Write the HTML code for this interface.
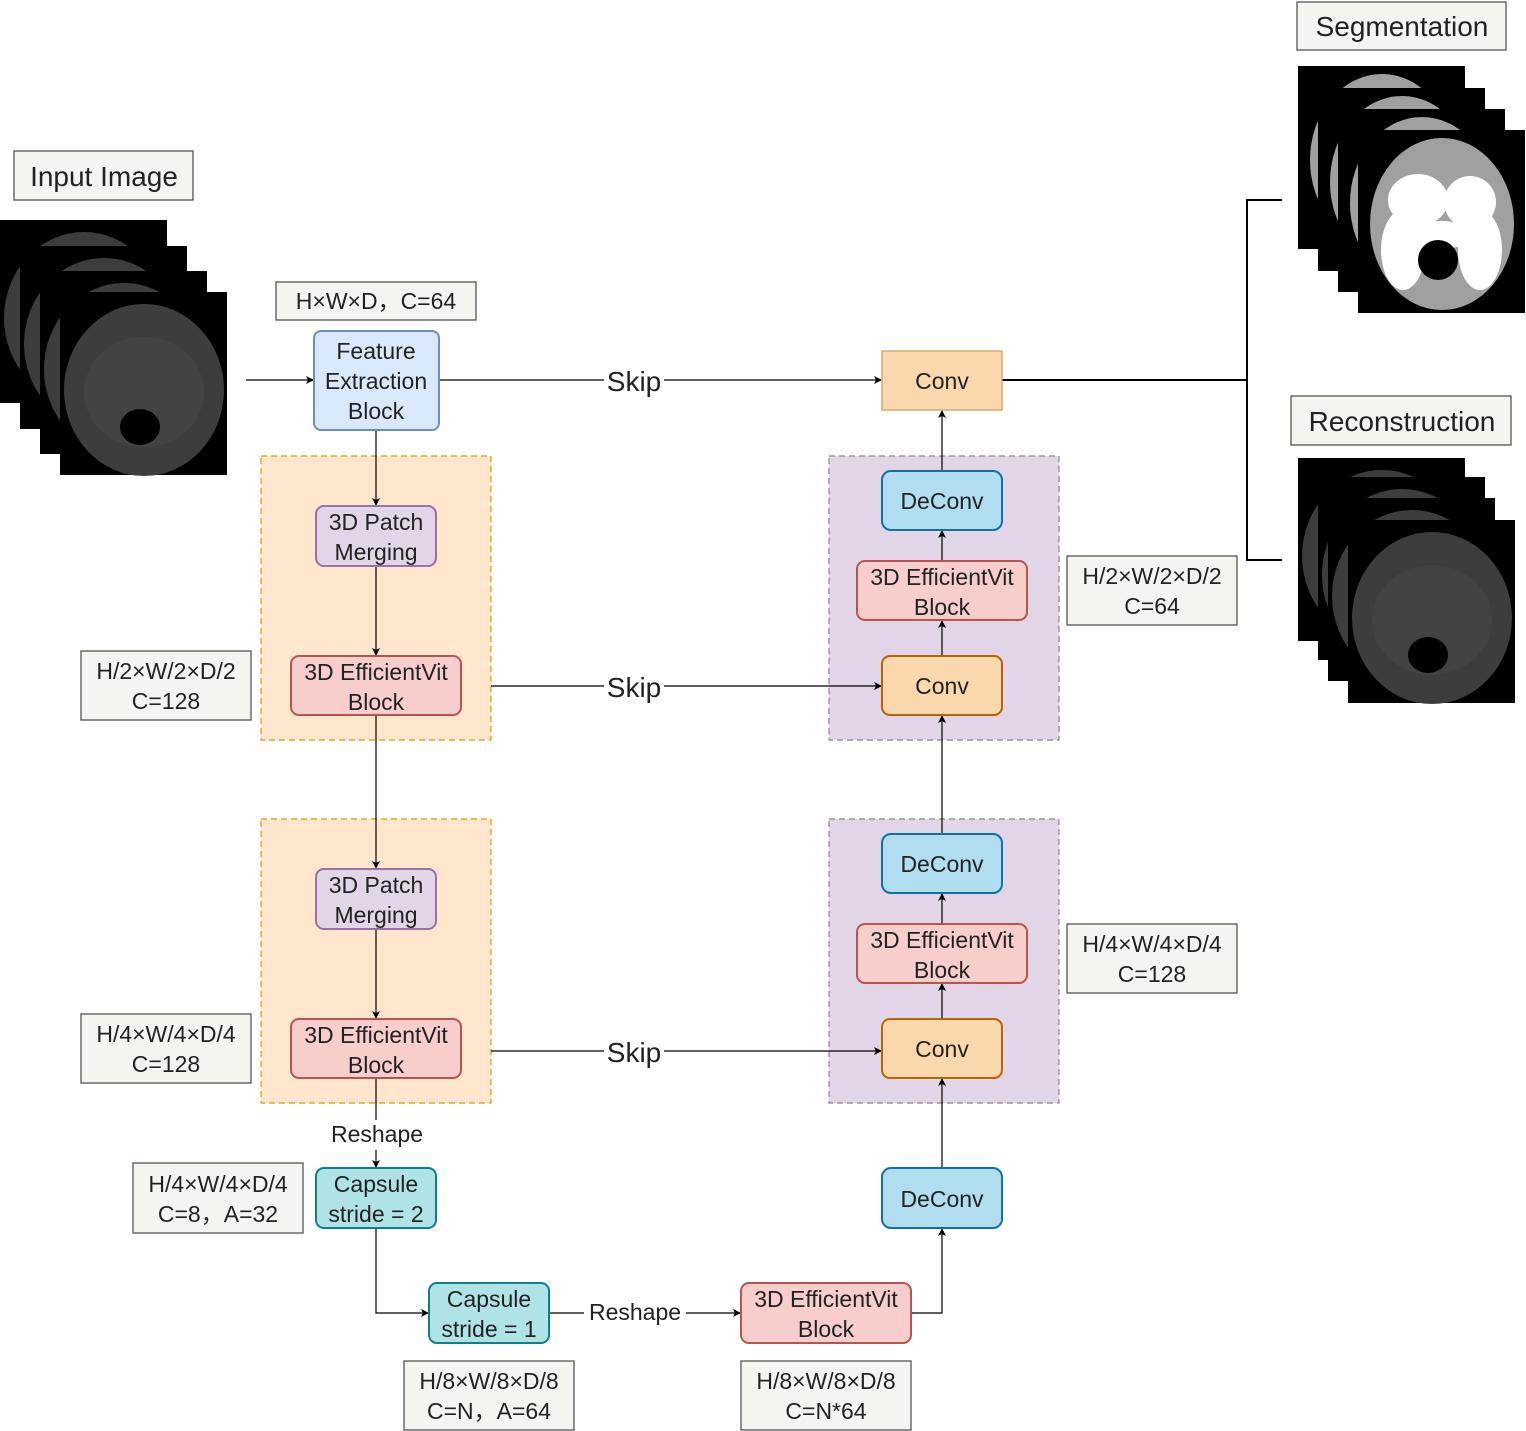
<!DOCTYPE html>
<html><head><meta charset="utf-8"><style>
body{margin:0;background:#fff}
svg{display:block}
text{font-family:"Liberation Sans",sans-serif;fill:#222}
</style></head><body>
<svg width="1526" height="1431" viewBox="0 0 1526 1431" xmlns="http://www.w3.org/2000/svg">
<defs>
<marker id="a" markerWidth="8" markerHeight="8" refX="7" refY="4" orient="auto" markerUnits="userSpaceOnUse"><path d="M0,0 L8,4 L0,8 L2,4 z" fill="#000"/></marker>
<g id="mri">
<rect width="167" height="183" fill="#000"/>
<ellipse cx="84" cy="98" rx="80" ry="86" fill="#3d3d3d"/>
<ellipse cx="84" cy="100" rx="60" ry="55" fill="#484848" opacity="0.6"/>
<ellipse cx="80" cy="135" rx="20" ry="18" fill="#000"/>
</g>
<g id="seg">
<rect width="167" height="183" fill="#000"/>
<ellipse cx="84" cy="94" rx="72" ry="86" fill="#a0a0a0"/>
<ellipse cx="60" cy="70" rx="30" ry="26" fill="#fff"/>
<ellipse cx="112" cy="72" rx="26" ry="26" fill="#fff"/>
<ellipse cx="45" cy="120" rx="22" ry="40" fill="#fff"/>
<ellipse cx="122" cy="120" rx="22" ry="40" fill="#fff"/>
<ellipse cx="84" cy="105" rx="30" ry="14" fill="#fff"/>
<ellipse cx="80" cy="130" rx="20" ry="20" fill="#000"/>
</g>
</defs>

<use href="#mri" x="0" y="220"/>
<use href="#mri" x="20" y="246"/>
<use href="#mri" x="40" y="271"/>
<use href="#mri" x="60" y="292"/>

<use href="#seg" x="1298" y="66"/>
<use href="#seg" x="1318" y="88"/>
<use href="#seg" x="1338" y="109"/>
<use href="#seg" x="1358" y="130"/>

<use href="#mri" x="1298" y="458"/>
<use href="#mri" x="1318" y="477"/>
<use href="#mri" x="1328" y="498"/>
<use href="#mri" x="1348" y="520"/>

<g stroke="#555" stroke-width="1.3" fill="#f5f5ef">
<rect x="14" y="151" width="179" height="49"/>
<rect x="1297" y="2" width="209" height="48"/>
<rect x="1291" y="396" width="220" height="49"/>
<rect x="276" y="282" width="200" height="38"/>
<rect x="81" y="651" width="170" height="69"/>
<rect x="81" y="1014" width="170" height="69"/>
<rect x="133" y="1163" width="170" height="70"/>
<rect x="404" y="1361" width="170" height="69"/>
<rect x="741" y="1361" width="170" height="69"/>
<rect x="1067" y="556" width="170" height="69"/>
<rect x="1067" y="924" width="170" height="69"/>
</g>
<g font-size="28" text-anchor="middle">
<text x="104" y="186">Input Image</text>
<text x="1402" y="36">Segmentation</text>
<text x="1402" y="431">Reconstruction</text>
</g>
<g font-size="23" text-anchor="middle">
<text x="376" y="309">H×W×D，C=64</text>
<text x="166" y="679">H/2×W/2×D/2</text><text x="166" y="709">C=128</text>
<text x="166" y="1042">H/4×W/4×D/4</text><text x="166" y="1072">C=128</text>
<text x="218" y="1192">H/4×W/4×D/4</text><text x="218" y="1222">C=8，A=32</text>
<text x="489" y="1389">H/8×W/8×D/8</text><text x="489" y="1419">C=N，A=64</text>
<text x="826" y="1389">H/8×W/8×D/8</text><text x="826" y="1419">C=N*64</text>
<text x="1152" y="584">H/2×W/2×D/2</text><text x="1152" y="614">C=64</text>
<text x="1152" y="952">H/4×W/4×D/4</text><text x="1152" y="982">C=128</text>
</g>

<g stroke-dasharray="6 4" stroke-width="1.2">
<rect x="261" y="456" width="230" height="284" fill="#ffe6cc" stroke="#d79b00"/>
<rect x="261" y="819" width="230" height="284" fill="#ffe6cc" stroke="#d79b00"/>
<rect x="829" y="456" width="230" height="284" fill="#e1d5e7" stroke="#888"/>
<rect x="829" y="819" width="230" height="284" fill="#e1d5e7" stroke="#888"/>
</g>

<g stroke="#000" stroke-width="1.2" fill="none">
<line x1="246" y1="380" x2="313" y2="380" marker-end="url(#a)"/>
<line x1="439" y1="380" x2="604" y2="380"/>
<line x1="664" y1="380" x2="881" y2="380" marker-end="url(#a)"/>
<line x1="491" y1="686" x2="604" y2="686"/>
<line x1="664" y1="686" x2="881" y2="686" marker-end="url(#a)"/>
<line x1="491" y1="1051" x2="604" y2="1051"/>
<line x1="664" y1="1051" x2="881" y2="1051" marker-end="url(#a)"/>
<line x1="376" y1="430" x2="376" y2="505" marker-end="url(#a)"/>
<line x1="376" y1="566" x2="376" y2="655" marker-end="url(#a)"/>
<line x1="376" y1="715" x2="376" y2="868" marker-end="url(#a)"/>
<line x1="376" y1="929" x2="376" y2="1018" marker-end="url(#a)"/>
<line x1="376" y1="1078" x2="376" y2="1120"/>
<line x1="376" y1="1150" x2="376" y2="1167" marker-end="url(#a)"/>
<polyline points="376,1228 376,1313 428,1313" marker-end="url(#a)"/>
<line x1="549" y1="1313" x2="584" y2="1313"/>
<line x1="686" y1="1313" x2="740" y2="1313" marker-end="url(#a)"/>
<polyline points="911,1313 942,1313 942,1229" marker-end="url(#a)"/>
<line x1="942" y1="1168" x2="942" y2="1079" marker-end="url(#a)"/>
<line x1="942" y1="1019" x2="942" y2="984" marker-end="url(#a)"/>
<line x1="942" y1="924" x2="942" y2="894" marker-end="url(#a)"/>
<line x1="942" y1="834" x2="942" y2="716" marker-end="url(#a)"/>
<line x1="942" y1="656" x2="942" y2="621" marker-end="url(#a)"/>
<line x1="942" y1="561" x2="942" y2="531" marker-end="url(#a)"/>
<line x1="942" y1="471" x2="942" y2="411" marker-end="url(#a)"/>
<polyline points="1002,380 1247,380" stroke-width="2"/>
<polyline points="1282,200 1247,200 1247,560 1282,560" stroke-width="2"/>
</g>
<g font-size="28" text-anchor="middle">
<text x="634" y="391">Skip</text>
<text x="634" y="697">Skip</text>
<text x="634" y="1062">Skip</text>
</g>
<g font-size="23" text-anchor="middle">
<text x="377" y="1142">Reshape</text>
<text x="635" y="1320">Reshape</text>
</g>

<g stroke-width="2">
<rect x="314" y="331" width="125" height="99" rx="7" fill="#dae8fc" stroke="#6c8ebf"/>
<rect x="316" y="506" width="120" height="60" rx="8" fill="#e1d5e7" stroke="#9673a6"/>
<rect x="291" y="656" width="170" height="59" rx="8" fill="#f8cecc" stroke="#b85450"/>
<rect x="316" y="869" width="120" height="60" rx="8" fill="#e1d5e7" stroke="#9673a6"/>
<rect x="291" y="1019" width="170" height="59" rx="8" fill="#f8cecc" stroke="#b85450"/>
<rect x="316" y="1168" width="120" height="60" rx="8" fill="#b0e3e6" stroke="#0e8088"/>
<rect x="429" y="1283" width="120" height="60" rx="8" fill="#b0e3e6" stroke="#0e8088"/>
<rect x="741" y="1283" width="170" height="60" rx="8" fill="#f8cecc" stroke="#b85450"/>
<rect x="882" y="351" width="120" height="59" fill="#fad7ac" stroke="#d6a15a" stroke-width="1.3"/>
<rect x="882" y="471" width="120" height="59" rx="9" fill="#b1ddf0" stroke="#10739e"/>
<rect x="857" y="561" width="170" height="59" rx="8" fill="#f8cecc" stroke="#b85450"/>
<rect x="882" y="656" width="120" height="59" rx="8" fill="#fad7ac" stroke="#b46504"/>
<rect x="882" y="834" width="120" height="59" rx="9" fill="#b1ddf0" stroke="#10739e"/>
<rect x="857" y="924" width="170" height="59" rx="8" fill="#f8cecc" stroke="#b85450"/>
<rect x="882" y="1019" width="120" height="59" rx="8" fill="#fad7ac" stroke="#b46504"/>
<rect x="882" y="1168" width="120" height="60" rx="9" fill="#b1ddf0" stroke="#10739e"/>
</g>
<g font-size="23" text-anchor="middle">
<text x="376" y="359">Feature</text><text x="376" y="389">Extraction</text><text x="376" y="419">Block</text>
<text x="376" y="530">3D Patch</text><text x="376" y="560">Merging</text>
<text x="376" y="680">3D EfficientVit</text><text x="376" y="710">Block</text>
<text x="376" y="893">3D Patch</text><text x="376" y="923">Merging</text>
<text x="376" y="1043">3D EfficientVit</text><text x="376" y="1073">Block</text>
<text x="376" y="1192">Capsule</text><text x="376" y="1222">stride = 2</text>
<text x="489" y="1307">Capsule</text><text x="489" y="1337">stride = 1</text>
<text x="826" y="1307">3D EfficientVit</text><text x="826" y="1337">Block</text>
<text x="942" y="389">Conv</text>
<text x="942" y="509">DeConv</text>
<text x="942" y="585">3D EfficientVit</text><text x="942" y="615">Block</text>
<text x="942" y="694">Conv</text>
<text x="942" y="872">DeConv</text>
<text x="942" y="948">3D EfficientVit</text><text x="942" y="978">Block</text>
<text x="942" y="1057">Conv</text>
<text x="942" y="1207">DeConv</text>
</g>
</svg>
</body></html>
